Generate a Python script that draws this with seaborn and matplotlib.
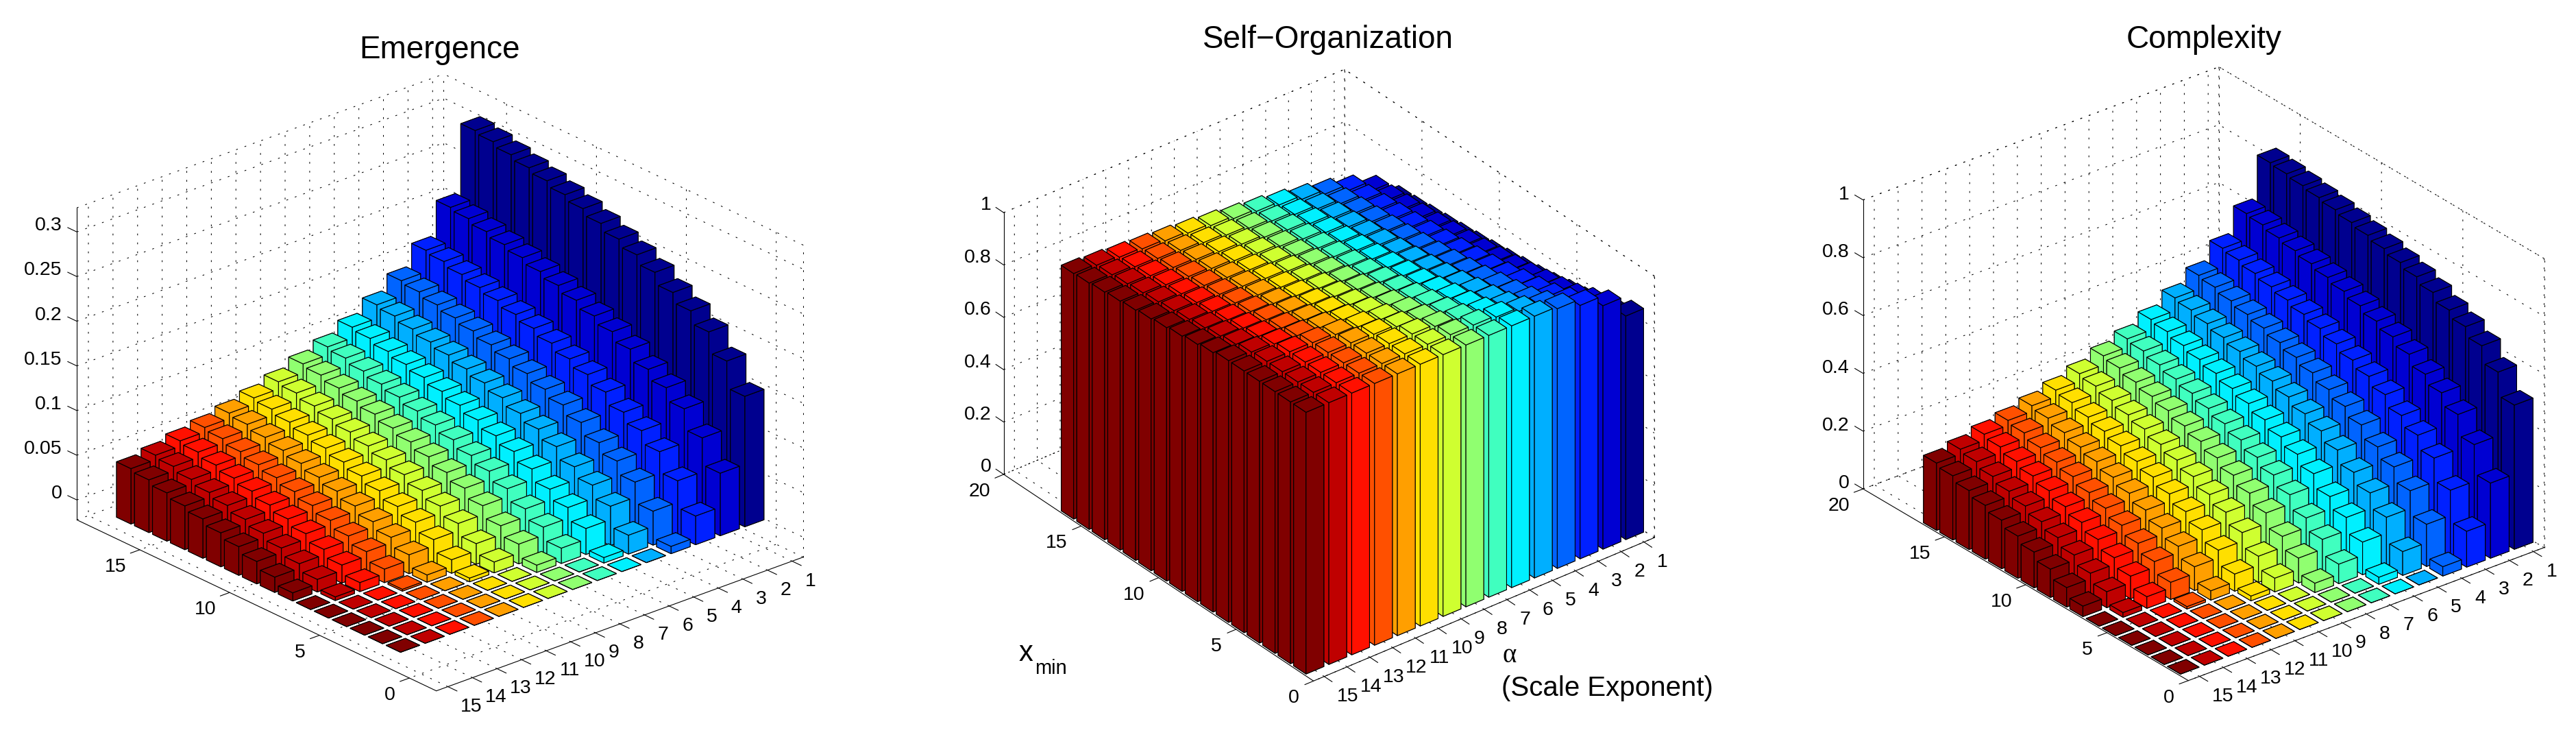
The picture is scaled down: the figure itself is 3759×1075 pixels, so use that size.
# plot.py - Emergence / Self-Organization / Complexity bar charts over alpha and x_min

import seaborn as sns
import matplotlib
matplotlib.use("Agg")
import matplotlib.pyplot as plt
from mpl_toolkits.mplot3d import proj3d

# --- Data (rows are alpha = 1..15, columns are x_min = 1..16) ---
ALPHA = list(range(1, 16))
XMIN = list(range(1, 17))

EMERGENCE = [
    [.146, .176, .199, .213, .224, .237, .247, .255, .263, .270, .276, .282, .287, .292, .297, .300],
    [.070, .100, .123, .137, .148, .161, .171, .179, .187, .194, .200, .206, .211, .216, .221, .224],
    [.032, .062, .085, .099, .110, .123, .133, .141, .149, .156, .162, .168, .173, .178, .183, .186],
    [.008, .038, .061, .075, .086, .099, .109, .117, .125, .132, .138, .144, .149, .154, .159, .162],
    [0, .021, .044, .058, .069, .082, .092, .100, .108, .115, .121, .127, .132, .137, .142, .145],
    [0, .006, .029, .043, .054, .067, .077, .085, .093, .100, .106, .112, .117, .122, .127, .130],
    [0, 0, .017, .031, .042, .055, .065, .073, .081, .088, .094, .100, .105, .110, .115, .118],
    [0, 0, .008, .022, .033, .046, .056, .064, .072, .079, .085, .091, .096, .101, .106, .109],
    [0, 0, 0, .012, .023, .036, .046, .054, .062, .069, .075, .081, .086, .091, .096, .099],
    [0, 0, 0, .004, .015, .028, .038, .046, .054, .061, .067, .073, .078, .083, .088, .091],
    [0, 0, 0, 0, .008, .021, .031, .039, .047, .054, .060, .066, .071, .076, .081, .084],
    [0, 0, 0, 0, .002, .015, .025, .033, .041, .048, .054, .060, .065, .070, .075, .078],
    [0, 0, 0, 0, 0, .010, .020, .028, .036, .043, .049, .055, .060, .065, .070, .073],
    [0, 0, 0, 0, 0, .004, .014, .022, .030, .037, .043, .049, .054, .059, .064, .067],
    [0, 0, 0, 0, 0, 0, .009, .017, .025, .032, .038, .044, .049, .054, .059, .062],
]

SELF_ORG = [
    [.854, .824, .801, .787, .776, .763, .753, .745, .737, .730, .724, .718, .713, .708, .703, .700],
    [.930, .900, .877, .863, .852, .839, .829, .821, .813, .806, .800, .794, .789, .784, .779, .776],
    [.968, .938, .915, .901, .890, .877, .867, .859, .851, .844, .838, .832, .827, .822, .817, .814],
    [.992, .962, .939, .925, .914, .901, .891, .883, .875, .868, .862, .856, .851, .846, .841, .838],
    [1, .979, .956, .942, .931, .918, .908, .900, .892, .885, .879, .873, .868, .863, .858, .855],
    [1, .994, .971, .957, .946, .933, .923, .915, .907, .900, .894, .888, .883, .878, .873, .870],
    [1, 1, .983, .969, .958, .945, .935, .927, .919, .912, .906, .900, .895, .890, .885, .882],
    [1, 1, .992, .978, .967, .954, .944, .936, .928, .921, .915, .909, .904, .899, .894, .891],
    [1, 1, 1, .988, .977, .964, .954, .946, .938, .931, .925, .919, .914, .909, .904, .901],
    [1, 1, 1, .996, .985, .972, .962, .954, .946, .939, .933, .927, .922, .917, .912, .909],
    [1, 1, 1, 1, .992, .979, .969, .961, .953, .946, .940, .934, .929, .924, .919, .916],
    [1, 1, 1, 1, .998, .985, .975, .967, .959, .952, .946, .940, .935, .930, .925, .922],
    [1, 1, 1, 1, 1, .990, .980, .972, .964, .957, .951, .945, .940, .935, .930, .927],
    [1, 1, 1, 1, 1, .996, .986, .978, .970, .963, .957, .951, .946, .941, .936, .933],
    [1, 1, 1, 1, 1, 1, .991, .983, .975, .968, .962, .956, .951, .946, .941, .938],
]

COMPLEXITY = [
    [.499, .580, .638, .671, .695, .723, .744, .760, .775, .788, .799, .810, .819, .827, .835, .840],
    [.260, .360, .431, .473, .504, .540, .567, .588, .608, .625, .640, .654, .666, .677, .689, .695],
    [.124, .233, .311, .357, .392, .431, .461, .484, .507, .527, .543, .559, .572, .585, .598, .606],
    [.032, .146, .229, .278, .314, .357, .388, .413, .438, .458, .476, .493, .507, .521, .535, .543],
    [0, .082, .168, .219, .257, .301, .334, .360, .385, .407, .425, .443, .458, .473, .487, .496],
    [0, .024, .113, .165, .204, .250, .284, .311, .337, .360, .379, .398, .413, .428, .443, .452],
    [0, 0, .067, .120, .161, .208, .243, .271, .298, .321, .341, .360, .376, .392, .407, .416],
    [0, 0, .032, .086, .128, .176, .211, .240, .267, .291, .311, .331, .347, .363, .379, .388],
    [0, 0, 0, .047, .090, .139, .176, .204, .233, .257, .278, .298, .314, .331, .347, .357],
    [0, 0, 0, .016, .059, .109, .146, .176, .204, .229, .250, .271, .288, .304, .321, .331],
    [0, 0, 0, 0, .032, .082, .120, .150, .179, .204, .226, .247, .264, .281, .298, .308],
    [0, 0, 0, 0, .008, .059, .098, .128, .157, .183, .204, .226, .243, .260, .278, .288],
    [0, 0, 0, 0, 0, .040, .078, .109, .139, .165, .186, .208, .226, .243, .260, .271],
    [0, 0, 0, 0, 0, .016, .055, .086, .116, .143, .165, .186, .204, .222, .240, .250],
    [0, 0, 0, 0, 0, 0, .036, .067, .098, .124, .146, .168, .186, .204, .222, .233],
]

ALPHA_COLORS = ["#00008f", "#0000d2", "#0020ff", "#0064ff", "#00afff", "#00f0ff", "#40ffbf", "#90ff70",
                "#cfff30", "#ffdf00", "#ff9f00", "#ff5000", "#ff1000", "#bf0000", "#800000"]

# --- Configuration ---
W, H = 3759, 1075
BAR_DX, BAR_DY = 0.78, 0.80
GRID_STYLE = (0, (2.5, 10))
TICK_SIZE = 20.5

PANELS = [
    dict(title="Emergence", values=EMERGENCE, ylim=(-1.5, 18.5), zlim=(-0.0223, 0.327),
         zticks=[0, .05, .1, .15, .2, .25, .3], zlabels=["0", "0.05", "0.1", "0.15", "0.2", "0.25", "0.3"],
         yticks=[0, 5, 10, 15], elev=24.6, azim=-131.2, aspect=(712, 797, 501),
         corner=(636.7, 1007.7), xspan=535.3, title_xy=(642, 73), zoff=(-21.7, -9)),
    dict(title="Self\u2212Organization", values=SELF_ORG, ylim=(0, 20), zlim=(0, 1),
         zticks=[0, .2, .4, .6, .8, 1], zlabels=["0", "0.2", "0.4", "0.6", "0.8", "1"],
         yticks=[0, 5, 10, 15, 20], elev=31.96, azim=-128.45, aspect=(635, 727, 450),
         corner=(1916.7, 993.3), xspan=497.3, title_xy=(1938, 58), zoff=(-18.3, -10.7)),
    dict(title="Complexity", values=COMPLEXITY, ylim=(0, 20), zlim=(0, 1),
         zticks=[0, .2, .4, .6, .8, 1], zlabels=["0", "0.2", "0.4", "0.6", "0.8", "1"],
         yticks=[0, 5, 10, 15, 20], elev=27.98, azim=-128.54, aspect=(664, 762, 477.5),
         corner=(3193.3, 992.7), xspan=519.2, title_xy=(3216, 58), zoff=(-20, -8)),
]

sns.set_style("white")
plt.rcParams["font.family"] = ["Liberation Sans", "DejaVu Sans"]
plt.rcParams.update({
    "text.color": "black",
    "grid.color": "black", "grid.linewidth": 0.75, "grid.linestyle": GRID_STYLE,
    "axes.edgecolor": "black", "axes.linewidth": 0.8,
    "xtick.color": "black", "ytick.color": "black",
    "xtick.bottom": True, "ytick.left": True,
    "xtick.major.width": 0.8, "ytick.major.width": 0.8,
})

colors = sns.color_palette(ALPHA_COLORS)
fig = plt.figure(figsize=(W / 100, H / 100), dpi=100)


def to_pixel(ax, x, y, z):
    u, v, _ = proj3d.proj_transform(x, y, z, ax.get_proj())
    return ax.transData.transform((u, v))


def place_axes(ax, corner, xspan, xlim, ylim, zlim):
    # scale and move the square 3D axes so the floor corner lands on its pixel
    s0 = 1000
    ax.set_position([0, 0, s0 / W, s0 / H])
    p0 = to_pixel(ax, xlim[0], ylim[0], zlim[0])
    p1 = to_pixel(ax, xlim[1], ylim[0], zlim[0])
    scale = xspan / (p1[0] - p0[0])
    left = corner[0] - p0[0] * scale
    bottom = (H - corner[1]) - p0[1] * scale
    ax.set_position([left / W, bottom / H, s0 * scale / W, s0 * scale / H])


def tick_text(ax, xyz, label, dx, dy, ha="center"):
    # offsets are in image pixels, y down
    px, py = to_pixel(ax, *xyz)
    fig.text((px + dx) / W, (py - dy) / H, label, fontsize=TICK_SIZE, ha=ha, va="center")


for p in PANELS:
    ax = fig.add_axes([0, 0, 1, 1], projection="3d", proj_type="ortho", computed_zorder=False)
    ax.patch.set_alpha(0)
    xlim = (15.47, 0.55)

    # far bars first, so the nearer ones paint over them
    for i, alpha in enumerate(ALPHA):
        for j in reversed(range(len(XMIN))):
            ax.bar3d(alpha - BAR_DX / 2, XMIN[j] - BAR_DY / 2, 0, BAR_DX, BAR_DY, p["values"][i][j],
                     color=colors[i], shade=False, edgecolor="black", linewidth=0.8, zorder=2)

    # dotted back edges of the box
    x0, x1 = xlim
    y0, y1 = p["ylim"]
    z0, z1 = p["zlim"]
    for xs, ys, zs in [([x1, x1], [y0, y1], [z1, z1]), ([x0, x1], [y1, y1], [z1, z1]),
                       ([x1, x1], [y1, y1], [z0, z1]), ([x1, x1], [y0, y0], [z0, z1]),
                       ([x1, x1], [y0, y1], [z0, z0]), ([x0, x1], [y1, y1], [z0, z0])]:
        ax.plot(xs, ys, zs, color="black", lw=0.75, ls=GRID_STYLE, zorder=1)

    ax.set_xlim(*xlim)
    ax.set_ylim(*p["ylim"])
    ax.set_zlim(*p["zlim"])
    ax.set_xticks(ALPHA)
    ax.set_yticks(p["yticks"])
    ax.set_zticks(p["zticks"])
    ax.set_xticklabels([])
    ax.set_yticklabels([])
    ax.set_zticklabels([])
    ax.view_init(elev=p["elev"], azim=p["azim"])
    ax.set_box_aspect(p["aspect"])

    for axis, out in ((ax.xaxis, -0.32), (ax.yaxis, -0.32), (ax.zaxis, 0.32)):
        axis.set_pane_color((1, 1, 1, 0))
        axis.pane.set_edgecolor("none")
        axis._axinfo["tick"]["inward_factor"] = 0
        axis._axinfo["tick"]["outward_factor"] = out
    ax.zaxis._get_tickdir = lambda pos: 1
    place_axes(ax, p["corner"], p["xspan"], xlim, p["ylim"], p["zlim"])

    # tick labels
    for alpha in ALPHA:
        dx = 34.5 if alpha >= 10 else 26.5
        tick_text(ax, (alpha, y0, z0), str(alpha), dx, 29)
    for y in p["yticks"]:
        dx = -35.5 if y >= 10 else -28.5
        tick_text(ax, (x0, y, z0), str(y), dx, 25)
    for z, label in zip(p["zticks"], p["zlabels"]):
        tick_text(ax, (x0, y1, z), label, p["zoff"][0], p["zoff"][1], ha="right")

    fig.text(p["title_xy"][0] / W, 1 - p["title_xy"][1] / H, p["title"], fontsize=33, ha="center", va="center")

# axis captions of the middle panel
fig.text(1497 / W, 1 - 953 / H, "x", fontsize=30, ha="center", va="center")
fig.text(1533 / W, 1 - 975 / H, "min", fontsize=21, ha="center", va="center")
fig.text(2203 / W, 1 - 956 / H, "\u03b1", fontsize=28, ha="center", va="center", family="Liberation Serif")
fig.text(2191 / W, 1 - 1004 / H, "(Scale Exponent)", fontsize=29, ha="left", va="center")

fig.savefig("out.png", dpi=100)
